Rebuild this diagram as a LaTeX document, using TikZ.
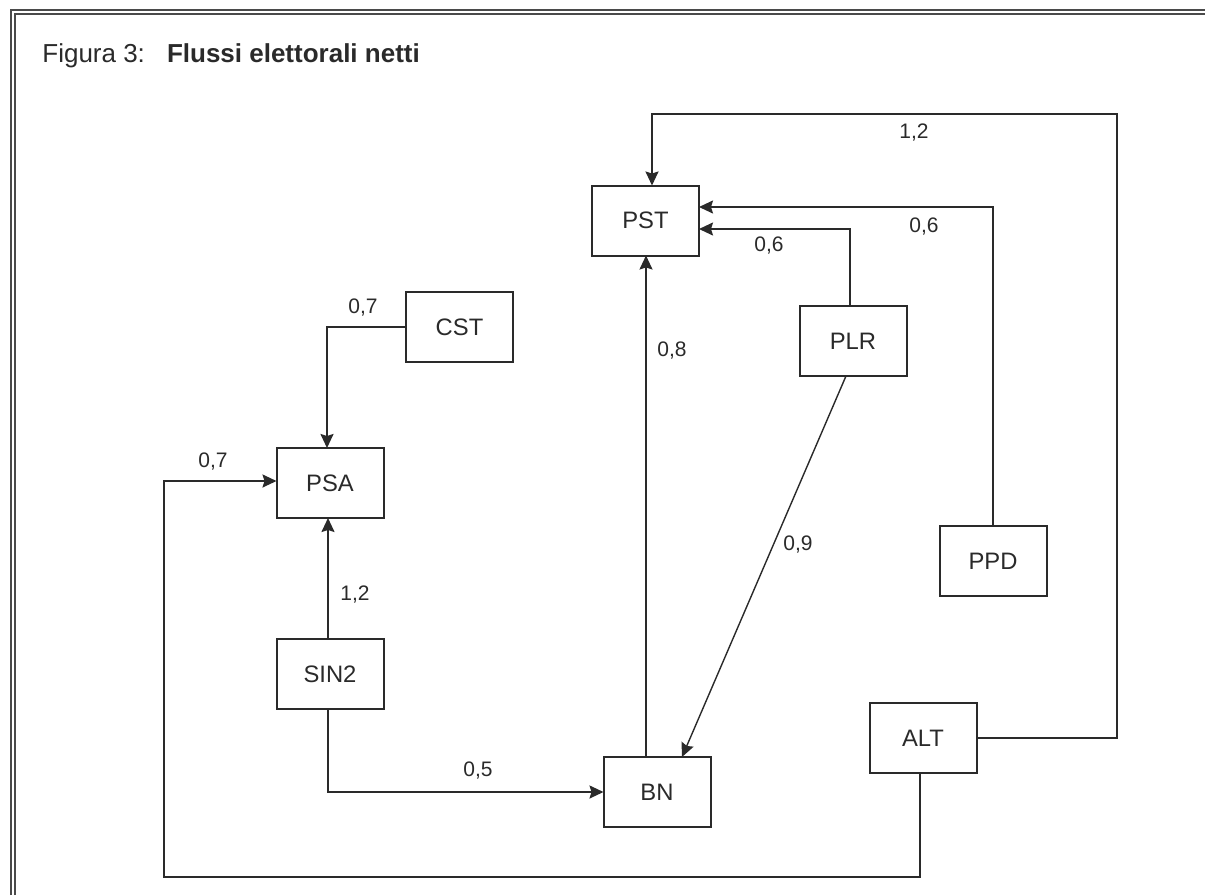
\documentclass[tikz,border=0pt]{standalone}
\usepackage{fontspec}
\setmainfont{Liberation Sans}
\usetikzlibrary{arrows.meta,calc}
\definecolor{ink}{HTML}{2A2A2A}
\tikzset{
  box/.style={draw=ink, line width=1pt, minimum width=53.5pt, minimum height=35pt, inner sep=0pt, outer sep=0pt, text=ink, font=\fontsize{11.9}{14}\selectfont},
  arr/.style={draw=ink, line width=0.9pt, -{Stealth[length=7pt,width=6.5pt,inset=1pt]}},
  lbl/.style={text=ink, inner sep=0pt, font=\fontsize{10.5}{12}\selectfont},
  frame/.style={draw=ink!85, line width=0.8pt}
}
\begin{document}
\begin{tikzpicture}[x=0.5pt,y=-0.5pt]
\useasboundingbox (0,0) rectangle (1205,895);
% frame
\draw[frame] (11,895) -- (11,10) -- (1205,10);
\draw[frame] (15,895) -- (15,14) -- (1205,14);
% title
\node[anchor=base west, text=ink, inner sep=0pt, font=\fontsize{13}{15}\selectfont] (title) at (42,62) {Figura 3:\hspace{11pt}\textbf{Flussi elettorali netti}};
% boxes
\node[box] (PST) at (645.5,220.5) {PST};
\node[box] (CST) at (459.5,327) {CST};
\node[box] (PSA) at (330,483) {PSA};
\node[box] (PLR) at (853,341) {PLR};
\node[box] (PPD) at (993,561) {PPD};
\node[box] (SIN2) at (330,674) {SIN2};
\node[box] (BN) at (657,792) {BN};
\node[box] (ALT) at (923,738) {ALT};
% helper coordinates
\coordinate (tr) at (1117,114);
\coordinate (bl) at (164,877);
% connectors
\draw[arr] (ALT.east) -| (tr) -| ([xshift=3.25pt]PST.north);
\draw[arr] (PPD.north) |- ([yshift=6.75pt]PST.east);
\draw[arr] ([xshift=-1.5pt]PLR.north) |- ([yshift=-4.25pt]PST.east);
\draw[arr] ([xshift=-5.5pt]BN.north) -- ([xshift=-5.5pt]BN.north |- PST.south);
\draw[arr, line width=0.7pt] ([xshift=-3.5pt]PLR.south) -- ([xshift=12.5pt]BN.north);
\draw[arr] (CST.west) -| ([xshift=-1.5pt]PSA.north);
\draw[arr] ([xshift=-1pt]SIN2.north) -- ([xshift=-1pt]PSA.south);
\draw[arr] ([xshift=-1pt]SIN2.south) |- (BN.west);
\draw[arr] ([xshift=-1.5pt]ALT.south) |- (bl) |- ([yshift=1pt]PSA.west);
% labels
\node[lbl] (l1) at (914,133) {1,2};
\node[lbl] (l2) at (924,227) {0,6};
\node[lbl] (l3) at (769,246) {0,6};
\node[lbl] (l4) at (672,351) {0,8};
\node[lbl] (l5) at (798,545) {0,9};
\node[lbl] (l6) at (363,308) {0,7};
\node[lbl] (l7) at (213,462) {0,7};
\node[lbl] (l8) at (355,595) {1,2};
\node[lbl] (l9) at (478,770) {0,5};
\end{tikzpicture}
\end{document}
